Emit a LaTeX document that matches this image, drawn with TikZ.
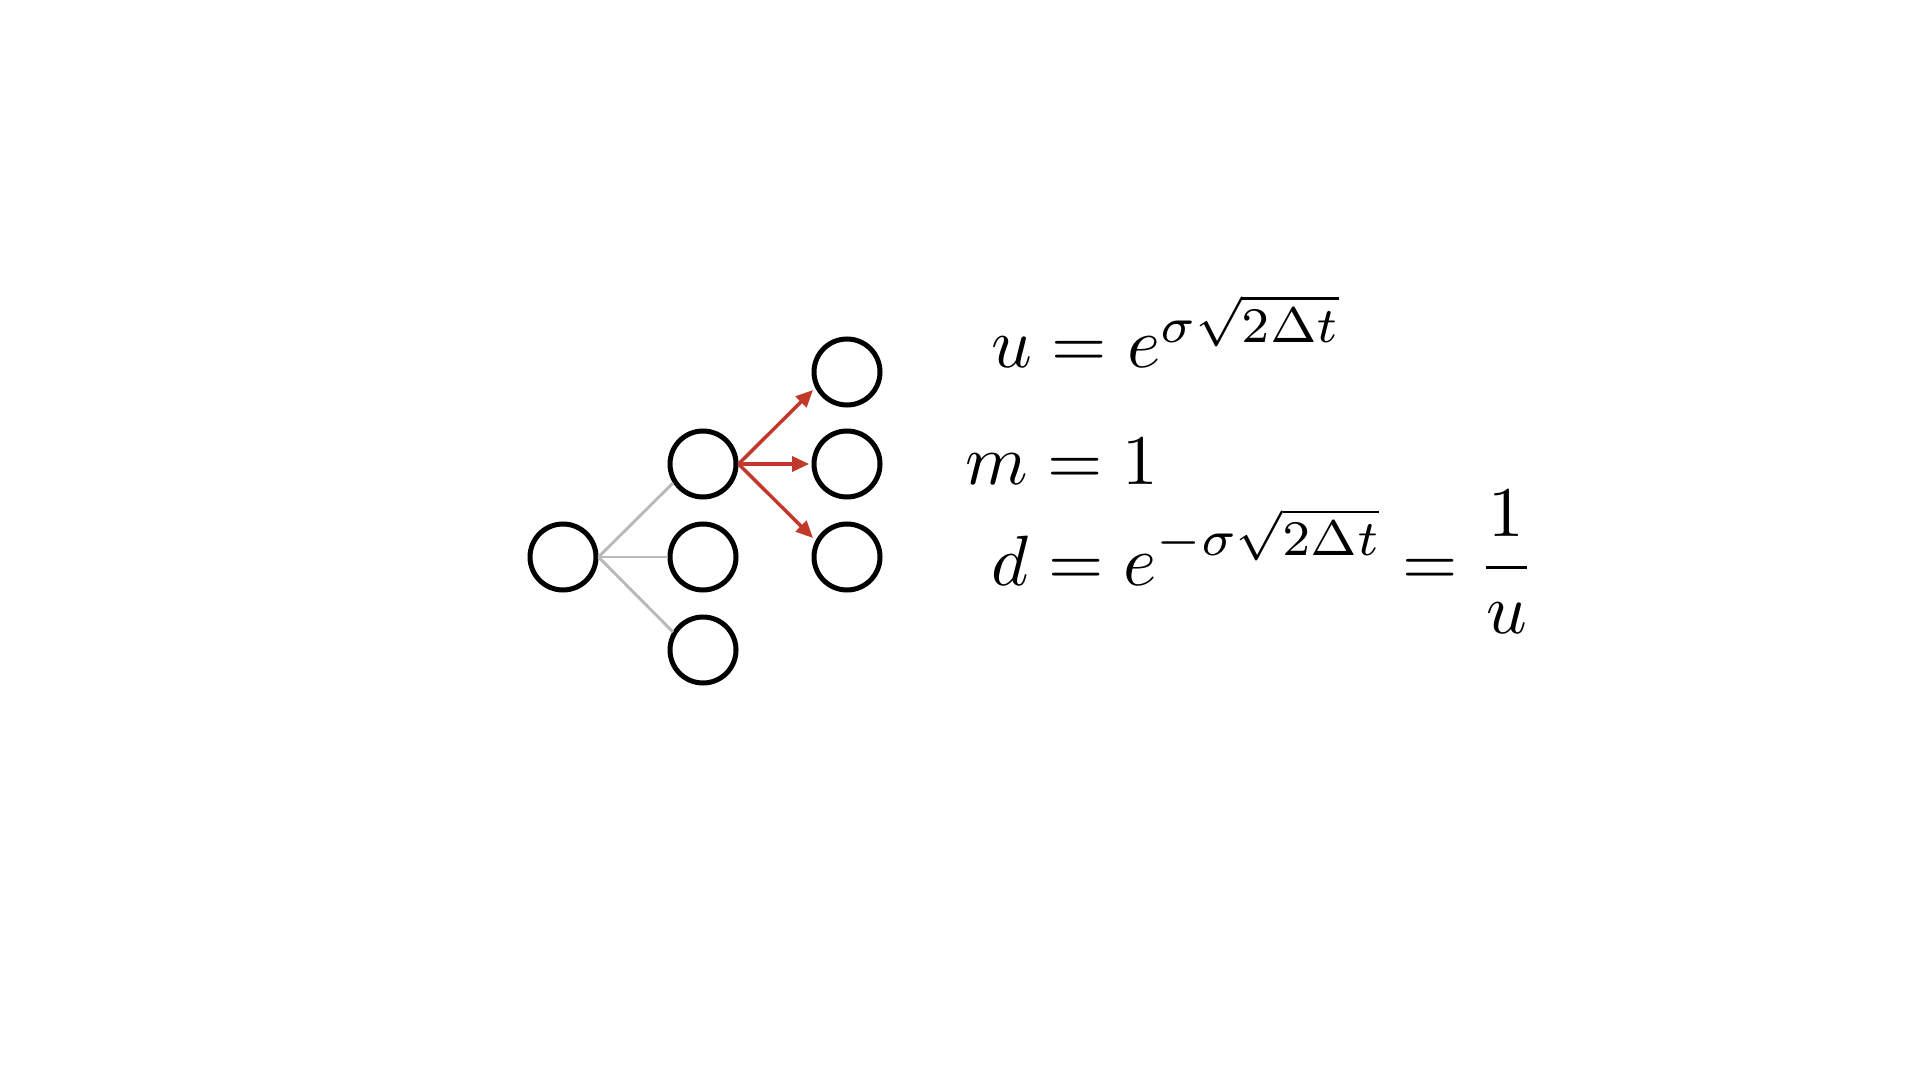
\documentclass[tikz,border=0pt]{standalone}
\usetikzlibrary{arrows.meta}
\definecolor{arrred}{RGB}{192,57,43}
\definecolor{linegray}{RGB}{185,185,185}
\begin{document}
\begin{tikzpicture}[x=0.75pt,y=-0.75pt,
  circ/.style={circle,draw=black,line width=3.75pt,minimum size=49.5pt,inner sep=0pt},
  grayline/.style={draw=linegray,line width=2.2pt},
  redarrow/.style={draw=arrred,line width=2.6pt,
     -{Triangle[length=12.75pt,width=11.25pt,fill=arrred]}},
  eq/.style={anchor=base west,inner sep=0pt,font=\normalsize,scale=5.34,transform shape}]
\useasboundingbox (0,0) rectangle (1920,1080);
\node[circ] (a)  at (563,557) {};
\node[circ] (b1) at (703,464) {};
\node[circ] (b2) at (703,557) {};
\node[circ] (b3) at (703,650) {};
\node[circ] (c1) at (847,372) {};
\node[circ] (c2) at (847,464) {};
\node[circ] (c3) at (847,557) {};
\coordinate (g1) at (673,483);
\coordinate (g3) at (673,632);
\coordinate (t1) at (813,390);
\coordinate (t3) at (813,538);
\draw[grayline] (a.east) -- (g1);
\draw[grayline] (a.east) -- (b2.west);
\draw[grayline] (a.east) -- (g3);
\draw[redarrow] (b1.east) -- (t1);
\draw[redarrow,shorten >=1.8pt] (b1.east) -- (c2.west);
\draw[redarrow] (b1.east) -- (t3);
\node[eq] (equ) at (990,368) {$u = e^{\sigma\sqrt{2\Delta t}}$};
\node[eq] (eqm) at (964,484) {$m = 1$};
\node[eq] (eqd) at (990,585) {$\displaystyle d = e^{-\sigma\sqrt{2\Delta t}} = \frac{1}{u}$};
\end{tikzpicture}
\end{document}
